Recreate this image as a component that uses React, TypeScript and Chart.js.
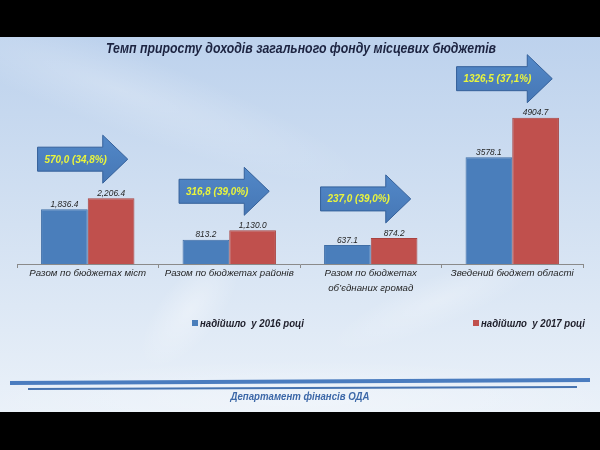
import React, { useEffect, useRef } from "react";
import { Chart, registerables } from "chart.js";

Chart.register(...registerables);

const titleText = "Темп приросту доходів загального фонду місцевих бюджетів";
const footerText = "Департамент фінансів ОДА";
const categories = [
  ["Разом по бюджетах міст"],
  ["Разом по бюджетах районів"],
  ["Разом по бюджетах", "об’єднаних громад"],
  ["Зведений бюджет області"],
];
const seriesNames = ["надійшло  у 2016 році", "надійшло  у 2017 році"];
const values2016 = [1836.4, 813.2, 637.1, 3578.1];
const values2017 = [2206.4, 1130.0, 874.2, 4904.7];
const labels2016 = ["1,836.4", "813.2", "637.1", "3578.1"];
const labels2017 = ["2,206.4", "1,130.0", "874.2", "4904.7"];
const growthLabels = ["570,0 (34,8%)", "316,8 (39,0%)", "237,0 (39,0%)", "1326,5 (37,1%)"];
const seriesColors = ["#4a7ebb", "#c0504d"];
const seriesBorders = ["#3f6ea6", "#a9423f"];

const FONT = "'Liberation Sans', Arial, sans-serif";

function drawText(
  ctx: CanvasRenderingContext2D,
  text: string,
  x: number,
  y: number,
  font: string,
  color: string,
  opts: { align?: "left" | "center" | "right"; scaleX?: number; width?: number } = {}
) {
  ctx.save();
  ctx.font = font;
  ctx.fillStyle = color;
  ctx.textBaseline = "middle";
  ctx.textAlign = "left";
  const w = ctx.measureText(text).width;
  let sx = opts.scaleX ?? 1;
  if (opts.width) sx = opts.width / w;
  const dw = w * sx;
  let left = x;
  if (opts.align === "center") left = x - dw / 2;
  else if (opts.align === "right") left = x - dw;
  ctx.translate(left, y);
  ctx.scale(sx, 1);
  ctx.fillText(text, 0, 0);
  ctx.restore();
  return dw;
}

const decorPlugin = {
  id: "decor",
  beforeDraw(chart: any) {
    const ctx: CanvasRenderingContext2D = chart.ctx;
    const W = chart.width;
    const H = chart.height;
    ctx.save();
    ctx.fillStyle = "#000";
    ctx.fillRect(0, 0, W, H);
    const top = 37;
    const bottom = 412;
    const g = ctx.createLinearGradient(0, top, 0, bottom);
    g.addColorStop(0, "#bdd2ed");
    g.addColorStop(0.5, "#d3e1f2");
    g.addColorStop(1, "#eaf1f9");
    ctx.fillStyle = g;
    ctx.fillRect(0, top, W, bottom - top);
    ctx.beginPath();
    ctx.rect(0, top, W, bottom - top);
    ctx.clip();
    const blobs = [
      { x: 120, y: 90, rx: 260, ry: 40, rot: 0.35, a: 0.22 },
      { x: 190, y: 310, rx: 70, ry: 30, rot: -0.9, a: 0.35 },
      { x: 440, y: 300, rx: 120, ry: 25, rot: -0.4, a: 0.25 },
      { x: 300, y: 400, rx: 320, ry: 40, rot: 0, a: 0.3 },
    ];
    for (const b of blobs) {
      ctx.save();
      ctx.translate(b.x, b.y);
      ctx.rotate(b.rot);
      ctx.scale(b.rx / 100, b.ry / 100);
      const rg = ctx.createRadialGradient(0, 0, 0, 0, 0, 100);
      rg.addColorStop(0, `rgba(255,255,255,${b.a})`);
      rg.addColorStop(1, "rgba(255,255,255,0)");
      ctx.fillStyle = rg;
      ctx.fillRect(-100, -100, 200, 200);
      ctx.restore();
    }
    ctx.restore();
  },
  afterDatasetsDraw(chart: any) {
    const ctx: CanvasRenderingContext2D = chart.ctx;
    const labelSets = [labels2016, labels2017];
    labelSets.forEach((labels, di) => {
      const meta = chart.getDatasetMeta(di);
      meta.data.forEach((bar: any, j: number) => {
        drawText(ctx, labels[j], bar.x, bar.y - 5, `italic 9.5px ${FONT}`, "#1f1f1f", {
          align: "center",
          scaleX: 0.88,
        });
      });
    });
    const xScale = chart.scales.x;
    const meta1 = chart.getDatasetMeta(1);
    growthLabels.forEach((txt, j) => {
      const cx = xScale.getPixelForValue(j);
      const redTop = meta1.data[j].y;
      const cy = redTop - 39;
      ctx.save();
      ctx.font = `italic bold 11px ${FONT}`;
      const tw = ctx.measureText(txt).width * 0.9;
      ctx.restore();
      const tip = cx + 40;
      const left = tip - (tw + 28);
      const headStart = tip - 25;
      const bh = 12;
      const hh = 24;
      ctx.save();
      ctx.beginPath();
      ctx.moveTo(left, cy - bh);
      ctx.lineTo(headStart, cy - bh);
      ctx.lineTo(headStart, cy - hh);
      ctx.lineTo(tip, cy);
      ctx.lineTo(headStart, cy + hh);
      ctx.lineTo(headStart, cy + bh);
      ctx.lineTo(left, cy + bh);
      ctx.closePath();
      const ag = ctx.createLinearGradient(0, cy - hh, 0, cy + hh);
      ag.addColorStop(0, "#5288c8");
      ag.addColorStop(1, "#4677b5");
      ctx.fillStyle = ag;
      ctx.fill();
      ctx.lineWidth = 1;
      ctx.strokeStyle = "#34609a";
      ctx.stroke();
      ctx.restore();
      drawText(ctx, txt, left + 7, cy + 0.5, `italic bold 11px ${FONT}`, "#eaf53c", {
        align: "left",
        scaleX: 0.9,
      });
    });
  },
  afterDraw(chart: any) {
    const ctx: CanvasRenderingContext2D = chart.ctx;
    drawText(ctx, titleText, 301, 49, `italic bold 14px ${FONT}`, "#1c2340", {
      align: "center",
      width: 390,
    });
    const legendX = [192, 473];
    seriesNames.forEach((name, i) => {
      ctx.save();
      ctx.fillStyle = chart.data.datasets[i].backgroundColor;
      ctx.fillRect(legendX[i], 320, 6, 6);
      ctx.restore();
      drawText(ctx, name, legendX[i] + 8, 323.5, `italic bold 11px ${FONT}`, "#1e1e2a", {
        align: "left",
        width: 104,
      });
    });
    ctx.save();
    ctx.strokeStyle = "#4a7cbf";
    ctx.lineWidth = 4;
    ctx.beginPath();
    ctx.moveTo(10, 383);
    ctx.lineTo(590, 380);
    ctx.stroke();
    ctx.strokeStyle = "#4673b0";
    ctx.lineWidth = 2;
    ctx.beginPath();
    ctx.moveTo(28, 389);
    ctx.lineTo(577, 387);
    ctx.stroke();
    ctx.restore();
    drawText(ctx, footerText, 300, 397, `italic bold 11px ${FONT}`, "#3d68a8", {
      align: "center",
      width: 139,
    });
  },
};

export default function App() {
  const ref = useRef<HTMLCanvasElement | null>(null);

  useEffect(() => {
    if (!ref.current) return;
    Chart.defaults.font.family = FONT;
    const chart = new Chart(ref.current, {
      type: "bar",
      data: {
        labels: categories as any,
        datasets: [
          {
            label: seriesNames[0],
            data: values2016,
            backgroundColor: seriesColors[0],
            borderColor: seriesBorders[0],
            borderWidth: 1,
            categoryPercentage: 0.66,
            barPercentage: 1.0,
          },
          {
            label: seriesNames[1],
            data: values2017,
            backgroundColor: seriesColors[1],
            borderColor: seriesBorders[1],
            borderWidth: 1,
            categoryPercentage: 0.66,
            barPercentage: 1.0,
          },
        ],
      },
      options: {
        responsive: false,
        animation: false,
        devicePixelRatio: 1,
        layout: { padding: { left: 17, right: 17, top: 85, bottom: 0 } },
        plugins: {
          legend: { display: false },
          title: { display: false },
          tooltip: { enabled: false },
        },
        scales: {
          x: {
            afterFit: (scale: any) => {
              scale.height = 186;
            },
            border: { display: true, color: "#8a8a8a", width: 1 },
            grid: {
              display: true,
              drawOnChartArea: false,
              drawTicks: true,
              tickLength: 4,
              color: "#8a8a8a",
              offset: true,
            },
            ticks: {
              color: "#1f1f1f",
              padding: -3,
              maxRotation: 0,
              autoSkip: false,
              font: { family: FONT, size: 9.7, style: "italic", lineHeight: 1.62 },
            },
          },
          y: {
            display: false,
            min: 0,
            max: 6000,
          },
        },
      },
      plugins: [decorPlugin],
    });
    return () => chart.destroy();
  }, []);

  return (
    <div style={{ position: "fixed", left: 0, top: 0, width: 600, height: 450 }}>
      <canvas ref={ref} width={600} height={450} style={{ display: "block", width: 600, height: 450 }} />
    </div>
  );
}
